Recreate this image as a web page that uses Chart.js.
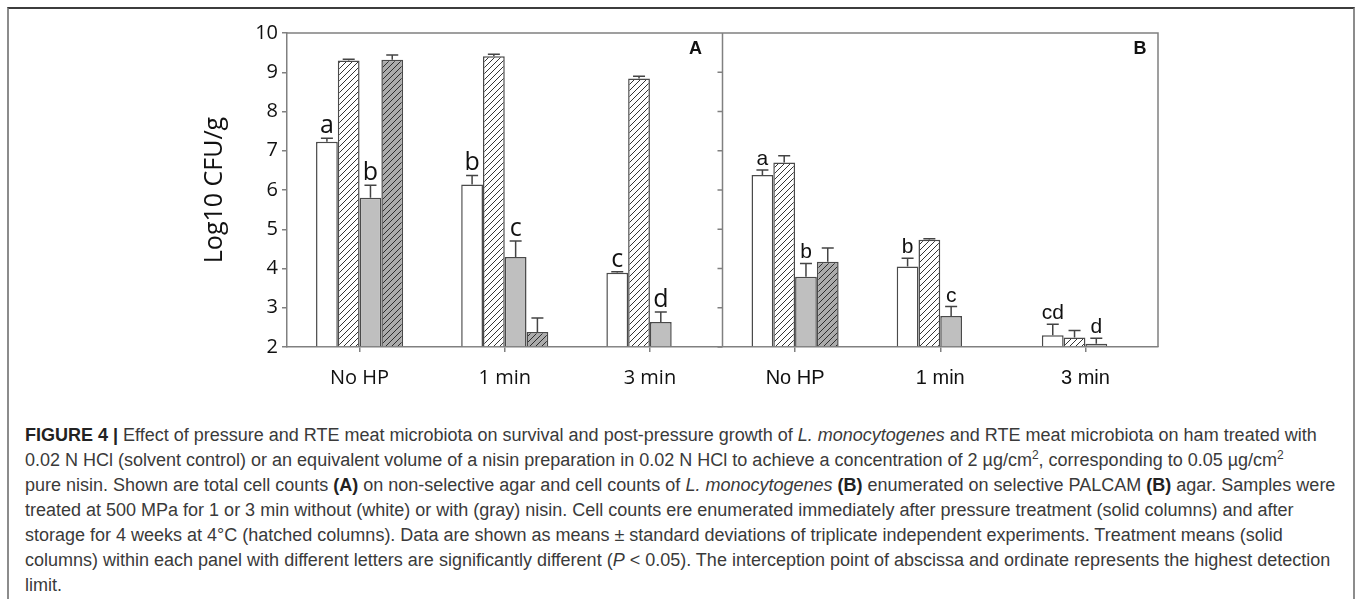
<!DOCTYPE html>
<html lang="en">
<head>
<meta charset="UTF-8">
<title>Figure 4 - L. monocytogenes counts</title>
<script src="https://cdn.jsdelivr.net/npm/chart.js@4.4.1/dist/chart.umd.min.js"></script>
<style>
    body {
        margin: 0;
        background: #fff;
        width: 1358px;
        height: 599px;
        overflow: hidden;
        position: relative;
        font-family: "Liberation Sans", Arial, sans-serif;
    }
    .frame {
        position: absolute;
        left: 7px;
        top: 7px;
        width: 1348px;
        height: 610px;
        border: 2px solid #8c8c8c;
        border-top: 2px solid #3c3c3c;
        box-sizing: border-box;
    }
    .chart-box {
        position: absolute;
        left: 0;
        top: 0;
        width: 1358px;
        height: 400px;
    }
    .caption {
        position: absolute;
        left: 25px;
        top: 423px;
        font-size: 18px;
        line-height: 25px;
        color: #3a3a3a;
    }
    .caption div { white-space: nowrap; }
    .caption b { color: #222; }
    .caption sup { font-size: 12px; line-height: 0; }
</style>
</head>
<body>
<div class="frame"></div>
<div class="chart-box"><canvas id="fig4"></canvas></div>
<div class="caption">
    <div><b>FIGURE 4 |</b> Effect of pressure and RTE meat microbiota on survival and post-pressure growth of <i>L. monocytogenes</i> and RTE meat microbiota on ham treated with</div>
    <div>0.02 N HCl (solvent control) or an equivalent volume of a nisin preparation in 0.02 N HCl to achieve a concentration of 2 &micro;g/cm<sup>2</sup>, corresponding to 0.05 &micro;g/cm<sup>2</sup></div>
    <div>pure nisin. Shown are total cell counts <b>(A)</b> on non-selective agar and cell counts of <i>L. monocytogenes</i> <b>(B)</b> enumerated on selective PALCAM <b>(B)</b> agar. Samples were</div>
    <div>treated at 500 MPa for 1 or 3 min without (white) or with (gray) nisin. Cell counts ere enumerated immediately after pressure treatment (solid columns) and after</div>
    <div>storage for 4 weeks at 4&deg;C (hatched columns). Data are shown as means &plusmn; standard deviations of triplicate independent experiments. Treatment means (solid</div>
    <div>columns) within each panel with different letters are significantly different (<i>P</i> &lt; 0.05). The interception point of abscissa and ordinate represents the highest detection</div>
    <div>limit.</div>
</div>

<script>
    const categories = ['No HP', '1 min', '3 min'];
    const yTicks = [2, 3, 4, 5, 6, 7, 8, 9, 10];

    // panel A: total cell counts
    const whiteA = [7.23, 6.14, 3.89];
    const whiteHatchA = [9.30, 9.41, 8.84];
    const grayA = [5.80, 4.29, 2.64];
    const grayHatchA = [9.32, 2.38, null];
    const whiteErrA = [0.09, 0.23, 0.03];
    const whiteHatchErrA = [0.03, 0.05, 0.06];
    const grayErrA = [0.32, 0.41, 0.25];
    const grayHatchErrA = [0.12, 0.36, null];

    // panel B: L. monocytogenes on PALCAM
    const whiteB = [6.38, 4.05, 2.30];
    const whiteHatchB = [6.70, 4.73, 2.24];
    const grayB = [3.79, 2.79, 2.08];
    const grayHatchB = [4.17, null, null];
    const whiteErrB = [0.13, 0.21, 0.28];
    const whiteHatchErrB = [0.17, 0.03, 0.18];
    const grayErrB = [0.34, 0.24, 0.14];
    const grayHatchErrB = [0.35, null, null];

    // significance letters over the solid columns
    const whiteLettersA = ['a', 'b', 'c'];
    const grayLettersA = ['b', 'c', 'd'];
    const whiteLettersB = ['a', 'b', 'cd'];
    const grayLettersB = ['b', 'c', 'd'];

    const panelNames = ['A', 'B'];

    function hatch(bg) {
        const c = document.createElement('canvas');
        c.width = 6;
        c.height = 6;
        const g = c.getContext('2d');
        g.fillStyle = bg;
        g.fillRect(0, 0, 6, 6);
        g.strokeStyle = '#1e1e1e';
        g.lineWidth = 0.9;
        g.beginPath();
        g.moveTo(0, 6); g.lineTo(6, 0);
        g.moveTo(-1, 1); g.lineTo(1, -1);
        g.moveTo(5, 7); g.lineTo(7, 5);
        g.stroke();
        return g.createPattern(c, 'repeat');
    }

    const edge = '#4a4a4a';
    const axisColor = '#808080';

    function series(a, b, errA, errB, fill, letA, letB) {
        return {
            data: a.concat(b),
            errors: errA.concat(errB),
            letters: letA ? letA.concat(letB) : null,
            backgroundColor: fill,
            borderColor: edge,
            borderWidth: 1.5,
            borderSkipped: 'bottom',
            base: 2
        };
    }

    const errorBars = {
        id: 'errorBars',
        afterDatasetsDraw(chart) {
            const ctx = chart.ctx;
            const y = chart.scales.y;
            ctx.save();
            ctx.strokeStyle = '#444';
            ctx.lineWidth = 1.5;
            chart.data.datasets.forEach((ds, i) => {
                chart.getDatasetMeta(i).data.forEach((bar, j) => {
                    const v = ds.data[j];
                    const e = ds.errors[j];
                    if (v == null || e == null) return;
                    const top = y.getPixelForValue(v + e);
                    ctx.beginPath();
                    ctx.moveTo(bar.x, bar.y);
                    ctx.lineTo(bar.x, top);
                    ctx.moveTo(bar.x - 6, top);
                    ctx.lineTo(bar.x + 6, top);
                    ctx.stroke();
                });
            });
            ctx.restore();
        }
    };

    const letters = {
        id: 'letters',
        afterDatasetsDraw(chart) {
            const ctx = chart.ctx;
            const y = chart.scales.y;
            ctx.save();
            ctx.fillStyle = '#111';
            ctx.textAlign = 'center';
            ctx.textBaseline = 'alphabetic';
            chart.data.datasets.forEach((ds, i) => {
                if (!ds.letters) return;
                chart.getDatasetMeta(i).data.forEach((bar, j) => {
                    const txt = ds.letters[j];
                    if (!txt) return;
                    const top = y.getPixelForValue(ds.data[j] + ds.errors[j]);
                    ctx.font = j < 3 ? '25px "Open Sans"' : '21px "Liberation Sans"';
                    ctx.fillText(txt, bar.x, top - 5);
                });
            });
            ctx.restore();
        }
    };

    const frame = {
        id: 'frame',
        afterDraw(chart) {
            const ctx = chart.ctx;
            const a = chart.chartArea;
            const x = chart.scales.x;
            const y = chart.scales.y;
            const mid = (x.getPixelForValue(2) + x.getPixelForValue(3)) / 2;
            ctx.save();
            ctx.strokeStyle = axisColor;
            ctx.lineWidth = 1.5;
            ctx.beginPath();
            ctx.moveTo(a.left, a.top);
            ctx.lineTo(a.right, a.top);
            ctx.lineTo(a.right, a.bottom);
            ctx.moveTo(mid, a.top);
            ctx.lineTo(mid, a.bottom);
            yTicks.forEach(t => {
                const py = y.getPixelForValue(t);
                ctx.moveTo(mid - 5, py);
                ctx.lineTo(mid, py);
            });
            ctx.stroke();

            ctx.fillStyle = '#111';
            ctx.font = 'bold 18px "Liberation Sans"';
            ctx.textAlign = 'center';
            ctx.textBaseline = 'middle';
            ctx.fillText(panelNames[0], mid - 27, a.top + 16);
            ctx.fillText(panelNames[1], a.right - 18, a.top + 16);
            ctx.restore();
        }
    };

    new Chart(document.getElementById('fig4'), {
        type: 'bar',
        data: {
            labels: categories.concat(categories),
            datasets: [
                series(whiteA, whiteB, whiteErrA, whiteErrB, '#ffffff', whiteLettersA, whiteLettersB),
                series(whiteHatchA, whiteHatchB, whiteHatchErrA, whiteHatchErrB, hatch('#ffffff')),
                series(grayA, grayB, grayErrA, grayErrB, '#bfbfbf', grayLettersA, grayLettersB),
                series(grayHatchA, grayHatchB, grayHatchErrA, grayHatchErrB, hatch('#ababab'))
            ]
        },
        options: {
            responsive: true,
            maintainAspectRatio: false,
            animation: false,
            layout: { padding: { top: 33, right: 200, left: 0, bottom: 0 } },
            datasets: {
                bar: { categoryPercentage: 0.6, barPercentage: 1.0 }
            },
            plugins: {
                legend: { display: false },
                tooltip: { enabled: false }
            },
            scales: {
                x: {
                    offset: true,
                    grid: {
                        display: true,
                        drawOnChartArea: false,
                        offset: false,
                        tickLength: 5,
                        color: axisColor,
                        lineWidth: 1.5
                    },
                    border: { color: axisColor, width: 1.5 },
                    ticks: {
                        color: '#111',
                        padding: 14,
                        font: ctx => ({
                            family: ctx.index < 3 ? '"Open Sans"' : '"Liberation Sans"',
                            size: 20
                        })
                    },
                    afterFit: s => { s.height = 53; }
                },
                y: {
                    min: 2,
                    max: 10,
                    afterBuildTicks: s => { s.ticks = yTicks.map(v => ({ value: v })); },
                    grid: {
                        drawOnChartArea: false,
                        tickLength: 5,
                        color: axisColor,
                        lineWidth: 1.5
                    },
                    border: { color: axisColor, width: 1.5 },
                    ticks: {
                        color: '#111',
                        padding: 4,
                        font: { family: '"Open Sans"', size: 20 }
                    },
                    title: {
                        display: true,
                        text: 'Log10 CFU/g',
                        color: '#111',
                        font: { family: '"Open Sans"', size: 25 },
                        padding: { top: 200, bottom: 0 }
                    },
                    afterFit: s => { s.width = 287; }
                }
            }
        },
        plugins: [errorBars, letters, frame]
    });
</script>
</body>
</html>
